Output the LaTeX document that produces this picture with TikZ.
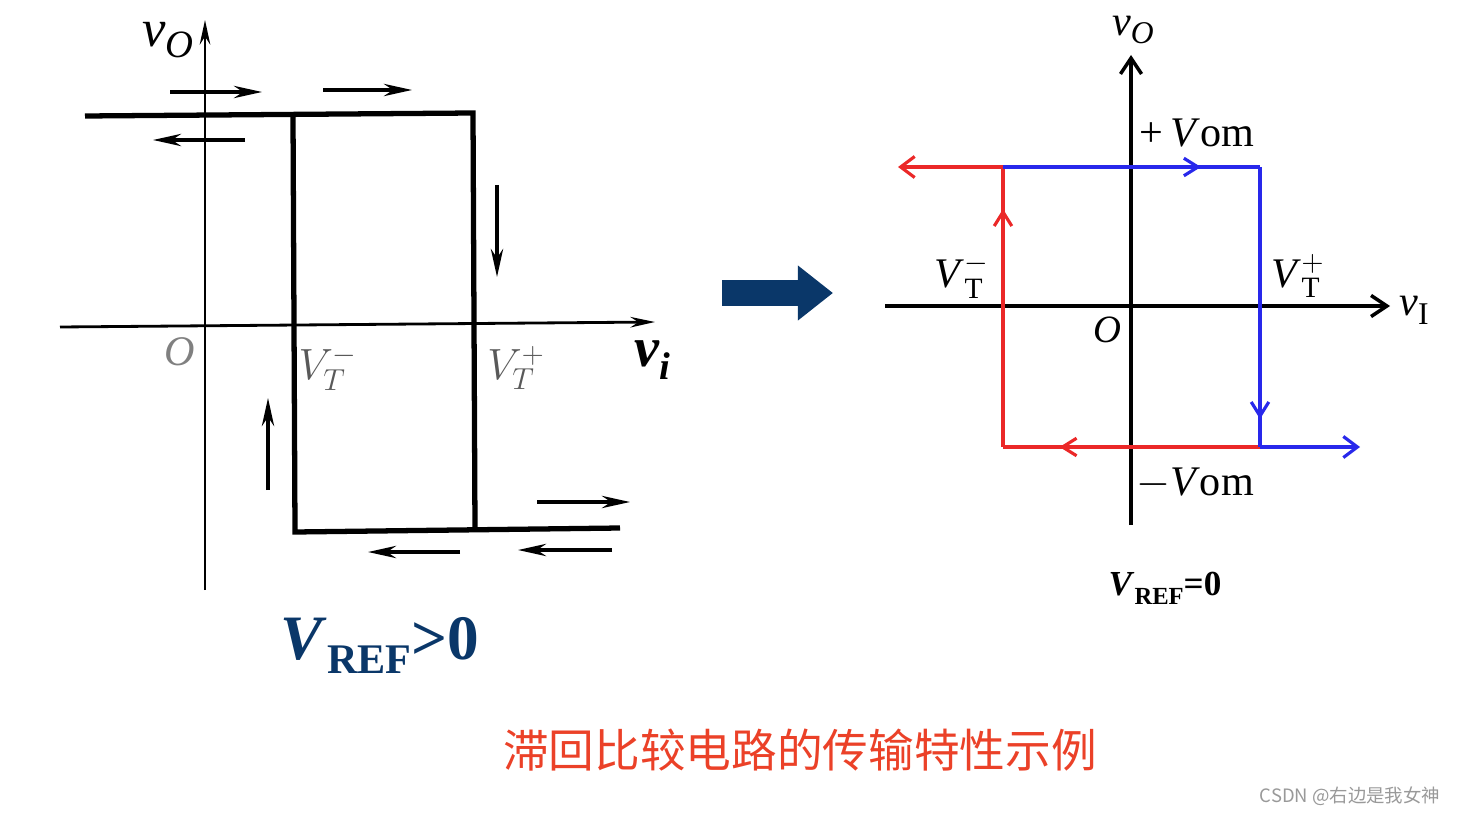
\documentclass[tikz,border=0pt]{standalone}
\usepackage{fontspec}
\newfontfamily\cjk{Noto Sans CJK SC}
\setmainfont{Liberation Serif}
\usetikzlibrary{arrows.meta,decorations.markings}
\definecolor{dblue}{RGB}{10,55,105}
\definecolor{cred}{RGB}{235,65,40}
\definecolor{lred}{RGB}{235,40,40}
\definecolor{lblue}{RGB}{40,40,235}
\tikzset{
 axis/.style={line width=1.6pt,-{Stealth[length=14pt,width=6pt]}},
 loop/.style={line width=3pt},
 sarr/.style={line width=2pt,-{Stealth[length=16pt,width=7pt]}},
 rl/.style={line width=2pt},
 midarr/.style={postaction={decorate},decoration={markings,mark=at position #1 with {\arrow{Straight Barb[length=8pt,width=10pt,line width=1.8pt]}}}},
 lab/.style={font=\fontsize{22}{22}\selectfont\itshape,inner sep=0pt},
 rlab/.style={font=\fontsize{20}{20}\selectfont,inner sep=0pt}
}
\begin{document}
\begin{tikzpicture}[x=0.02cm,y=-0.02cm]
\useasboundingbox (0,0) rectangle (1460,814);
% left axes
\draw[axis] (205,590) -- (205,20);
\draw[axis] (60,327) -- (655,322);
% loop
\draw[loop] (85,116) -- (473,113) -- (475,530);
\draw[loop] (293,116) -- (295,532) -- (620,528);
% small arrows
\draw[sarr] (170,92) -- (262,92);
\draw[sarr] (323,90) -- (412,90);
\draw[sarr] (245,140) -- (153,140);
\draw[sarr] (497,185) -- (497,277);
\draw[sarr] (268,490) -- (268,398);
\draw[sarr] (537,502) -- (630,502);
\draw[sarr] (460,552) -- (368,552);
\draw[sarr] (612,550) -- (518,550);
\node[lab,font=\fontsize{30}{30}\selectfont\itshape] (vo) at (168,40) {\textit{v}\raisebox{-6pt}{\fontsize{22}{22}\selectfont\textit{O}}};
\node[lab,font=\fontsize{24}{24}\selectfont\itshape,gray] (O1) at (180,352) {O};
\node[lab,font=\fontsize{26}{26}\selectfont\itshape,gray!70!black] (vtm) at (328,368) {$V_T^{-}$};
\node[lab,font=\fontsize{26}{26}\selectfont\itshape,gray!70!black] (vtp) at (516,368) {$V_T^{+}$};
\node[lab,font=\fontsize{32}{32}\selectfont\bfseries\itshape] (vi) at (652,360) {\textbf{\textit{v}}\raisebox{-7pt}{\fontsize{22}{22}\selectfont\textit{i}}};
\node[inner sep=0pt,text=dblue,font=\fontsize{36}{36}\selectfont\bfseries] (vref1) at (380,645) {\textit{V}\raisebox{-8pt}{\fontsize{24}{24}\selectfont REF}\raisebox{0pt}{>0}};
% big arrow
\draw[dblue,line width=15pt,-{Triangle[length=20pt,width=30pt]}] (722,293) -- (833,293);
% right axes
\draw[line width=2.2pt,-{Straight Barb[length=9pt,width=12pt,line width=2pt]}] (1131,525) -- (1131,55);
\draw[line width=2.2pt,-{Straight Barb[length=9pt,width=12pt,line width=2pt]}] (885,306) -- (1390,306);
% red
\draw[rl,lred,-{Straight Barb[length=8pt,width=12pt,line width=1.8pt]}] (1003,167) -- (898,167);
\draw[rl,lred,midarr=0.85] (1003,447) -- (1003,167);
\draw[rl,lred,midarr=0.78] (1260,447) -- (1003,447);
% blue
\draw[rl,lblue,midarr=0.77] (1003,167) -- (1260,167);
\draw[rl,lblue,midarr=0.9] (1260,167) -- (1260,447);
\draw[rl,lblue,-{Straight Barb[length=8pt,width=12pt,line width=1.8pt]}] (1260,447) -- (1360,447);
\node[rlab,font=\fontsize{24}{24}\selectfont\itshape] (vo2) at (1133,30) {\textit{v}\raisebox{-5pt}{\fontsize{18}{18}\selectfont O}};
\node[rlab,font=\fontsize{24}{24}\selectfont] (pv) at (1197,133) {+\,\textit{V}om};
\node[rlab,font=\fontsize{24}{24}\selectfont] (mv) at (1195,484) {$-$\textit{V}om};
\node[rlab,font=\fontsize{24}{24}\selectfont] (vtm2) at (962,276) {\textit{V}$_{\mathrm{T}}^{-}$};
\node[rlab,font=\fontsize{24}{24}\selectfont] (vtp2) at (1298,276) {\textit{V}$_{\mathrm{T}}^{+}$};
\node[rlab,font=\fontsize{24}{24}\selectfont] (vi2) at (1414,310) {\textit{v}\raisebox{-5pt}{\fontsize{18}{18}\selectfont I}};
\node[rlab,font=\fontsize{22}{22}\selectfont\itshape] (O2) at (1107,330) {O};
\node[rlab,font=\fontsize{20}{20}\selectfont\bfseries] (vref2) at (1165,588) {\textit{V}\raisebox{-5pt}{\fontsize{14}{14}\selectfont REF}=0};
% caption
\node[inner sep=0pt,text=cred,font=\cjk\fontsize{26}{26}\selectfont] (cap) at (800,750) {滞回比较电路的传输特性示例};
\node[inner sep=0pt,text=gray!80,font=\cjk\fontsize{10.5}{10.5}\selectfont] (wm) at (1350,796) {CSDN @右边是我女神};
\end{tikzpicture}
\end{document}
